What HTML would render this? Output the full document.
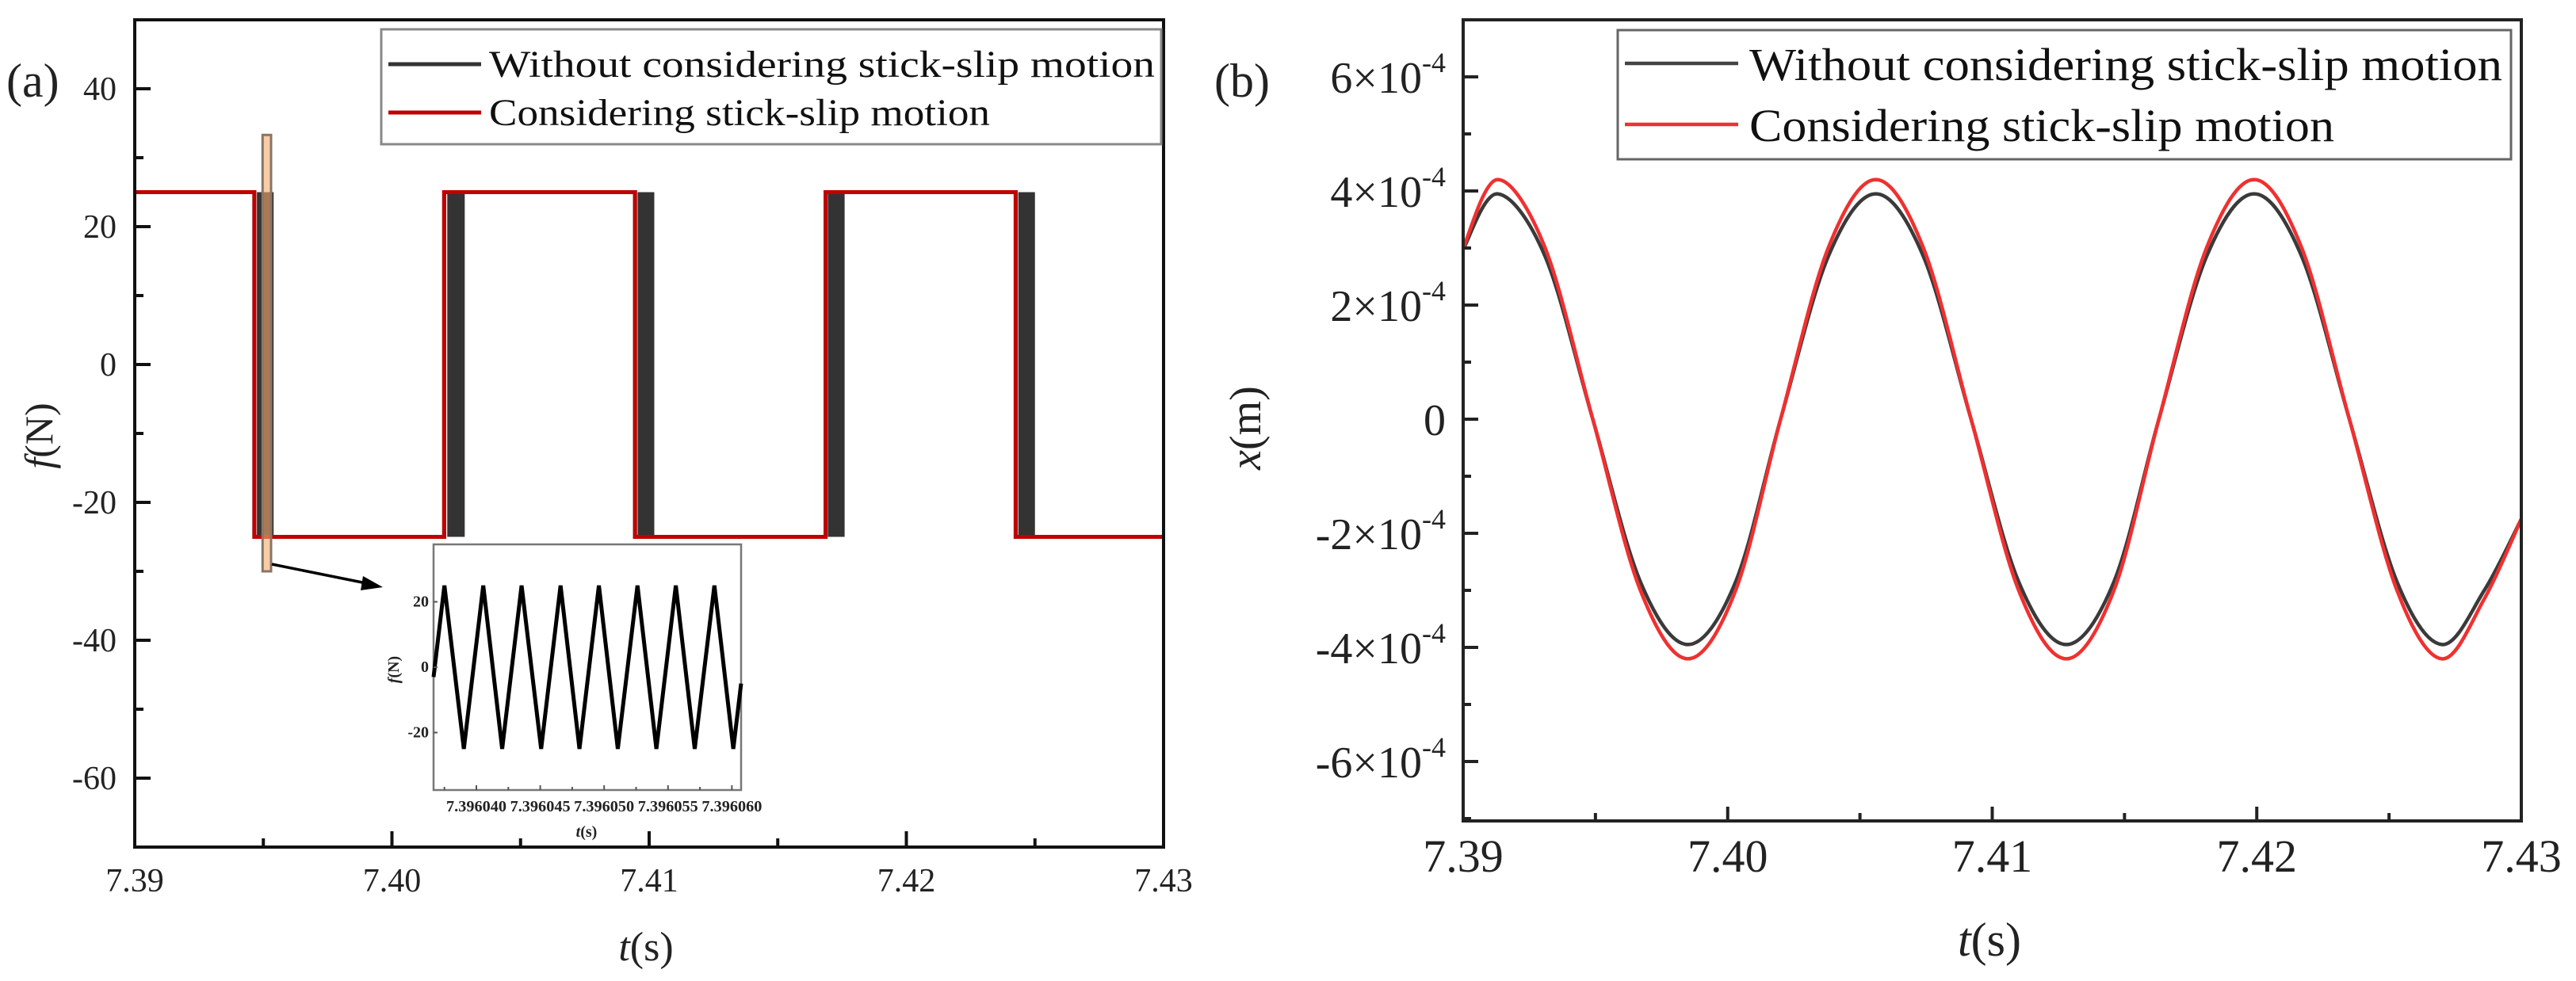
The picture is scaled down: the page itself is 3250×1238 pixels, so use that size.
<!DOCTYPE html>
<html><head><meta charset="utf-8"><style>
html,body{margin:0;padding:0;background:#fff;}
svg{display:block;font-family:"Liberation Serif",serif;}
svg text{font-family:"Liberation Serif",serif;}
</style></head><body>
<svg id="fig" width="3250" height="1238" viewBox="0 0 3250 1238" xmlns="http://www.w3.org/2000/svg">
<g id="pa"></g>
<g id="pb"></g>
</svg>
<script>
// ---------- Panel (a) data ----------
const aXTicks = [7.39, 7.40, 7.41, 7.42, 7.43];
const aXTickLabels = ["7.39", "7.40", "7.41", "7.42", "7.43"];
const aYTicks = [40, 20, 0, -20, -40, -60];
const aYTickLabels = ["40", "20", "0", "-20", "-40", "-60"];
const aRedSwitchT = [7.39465, 7.40203, 7.40945, 7.41686, 7.42425];
const aRedStartLevel = 25;
const aLevelHigh = 25;
const aLevelLow = -25;
const aBlackBlockStart = [7.39475, 7.40215, 7.40955, 7.41695, 7.42435];
const aBlackBlockEnd = [7.39540, 7.40283, 7.41020, 7.41760, 7.42500];
const aHighlightT = [7.39497, 7.39530];
const aHighlightF = [33.3, -30];
// inset data (time in microseconds after 7.396 s)
const insetT = [36.65, 37.50, 39.02, 40.54, 42.02, 43.54, 45.07, 46.59, 48.07, 49.59, 51.07, 52.61, 54.09, 55.61, 57.09, 58.63, 60.11, 60.72];
const insetF = [-3, 25, -25, 25, -25, 25, -25, 25, -25, 25, -25, 25, -25, 25, -25, 25, -25, -5];
const insetXTicks = [40, 45, 50, 55, 60];
const insetXTickLabels = ["7.396040", "7.396045", "7.396050", "7.396055", "7.396060"];
const insetYTicks = [20, 0, -20];
const insetYTickLabels = ["20", "0", "-20"];

// ---------- Panel (b) data ----------
const bXTicks = [7.39, 7.40, 7.41, 7.42, 7.43];
const bXTickLabels = ["7.39", "7.40", "7.41", "7.42", "7.43"];
const bYTicks = [6, 4, 2, 0, -2, -4, -6];
const bYTickMant = ["6", "4", "2", "0", "-2", "-4", "-6"];
const bT = [7.3900, 7.3913, 7.3931, 7.3949, 7.3967, 7.3985, 7.4003, 7.4020, 7.4038, 7.4056, 7.4074, 7.4092, 7.4110, 7.4128, 7.4146, 7.4163, 7.4181, 7.4199, 7.4217, 7.4235, 7.4253, 7.4270, 7.4286, 7.4300];
const bBlack = [2.98, 3.95, 2.85, 0, -2.85, -3.95, -2.85, 0, 2.85, 3.95, 2.85, 0, -2.85, -3.95, -2.85, 0, 2.85, 3.95, 2.85, 0, -2.85, -3.95, -3.0, -1.75];
const bRed = [3.0, 4.2, 3.0, 0, -3.0, -4.2, -3.0, 0, 3.0, 4.2, 3.0, 0, -3.0, -4.2, -3.0, 0, 3.0, 4.2, 3.0, 0, -3.0, -4.2, -3.15, -1.75];

const NS = "http://www.w3.org/2000/svg";
const FF = '"Liberation Serif", serif';
function mk(parent, tag, attrs, text) {
  const e = document.createElementNS(NS, tag);
  for (const k in attrs) e.setAttribute(k, attrs[k]);
  if (tag === "text") e.setAttribute("font-family", FF);
  if (text !== undefined) e.textContent = text;
  parent.appendChild(e);
  return e;
}
function crPath(pts) {
  let d = "M" + pts[0][0] + "," + pts[0][1];
  for (let i = 0; i < pts.length - 1; i++) {
    const p0 = pts[Math.max(0, i - 1)], p1 = pts[i], p2 = pts[i + 1], p3 = pts[Math.min(pts.length - 1, i + 2)];
    const c1x = p1[0] + (p2[0] - p0[0]) / 6, c1y = p1[1] + (p2[1] - p0[1]) / 6;
    const c2x = p2[0] - (p3[0] - p1[0]) / 6, c2y = p2[1] - (p3[1] - p1[1]) / 6;
    d += " C" + c1x + "," + c1y + " " + c2x + "," + c2y + " " + p2[0] + "," + p2[1];
  }
  return d;
}

// ===== Panel A =====
const pa = document.getElementById("pa");
const aL = 170, aR = 1468, aT = 25, aB = 1069;
const ax = t => aL + (t - 7.39) / 0.04 * (aR - aL);
const ay = v => aT + (50 - v) / 120 * (aB - aT);

let bd = "M" + aL + "," + ay(aRedStartLevel);
let lvl = aRedStartLevel;
aRedSwitchT.forEach(t => { lvl = (lvl === aLevelHigh) ? aLevelLow : aLevelHigh; bd += " L" + ax(t) + "," + ay(lvl === aLevelHigh ? aLevelLow : aLevelHigh) + " L" + ax(t) + "," + ay(lvl); });
bd += " L" + aR + "," + ay(lvl);
const blackStep = mk(pa, "path", {d: bd, fill: "none", stroke: "#333", "stroke-width": 5});


aBlackBlockStart.forEach((t0, i) => {
  const r = mk(pa, "rect", {x: ax(t0), y: ay(aLevelHigh), width: ax(aBlackBlockEnd[i]) - ax(t0), height: ay(aLevelLow) - ay(aLevelHigh), fill: "#333"});
  
  
});
let rd = "M" + aL + "," + ay(aRedStartLevel);
lvl = aRedStartLevel;
aRedSwitchT.forEach(t => { const nl = (lvl === aLevelHigh) ? aLevelLow : aLevelHigh; rd += " L" + ax(t) + "," + ay(lvl) + " L" + ax(t) + "," + ay(nl); lvl = nl; });
rd += " L" + aR + "," + ay(lvl);
const redStep = mk(pa, "path", {d: rd, fill: "none", stroke: "#c00000", "stroke-width": 5});


const hl = mk(pa, "rect", {x: ax(aHighlightT[0]), y: ay(aHighlightF[0]), width: ax(aHighlightT[1]) - ax(aHighlightT[0]), height: ay(aHighlightF[1]) - ay(aHighlightF[0]), fill: "rgba(245,170,110,0.6)", stroke: "#8a7565", "stroke-width": 3});


const arr = mk(pa, "line", {x1: 343, y1: 712, x2: 462, y2: 736, stroke: "#000", "stroke-width": 3.5});


const ah = mk(pa, "polygon", {points: "483,741 458,727 455,745", fill: "#000"});



const fa = mk(pa, "rect", {x: aL, y: aT, width: aR - aL, height: aB - aT, fill: "none", stroke: "#111", "stroke-width": 4});


aXTicks.forEach((t, i) => {
  mk(pa, "line", {x1: ax(t), y1: aB, x2: ax(t), y2: aB - 20, stroke: "#111", "stroke-width": 4});
  if (i < aXTicks.length - 1) mk(pa, "line", {x1: ax(t + 0.005), y1: aB, x2: ax(t + 0.005), y2: aB - 11, stroke: "#111", "stroke-width": 4});
  const tl = mk(pa, "text", {x: ax(t), y: 1125, "font-size": 42, "text-anchor": "middle", fill: "#222"}, aXTickLabels[i]);
  
  
});
aYTicks.forEach((v, i) => {
  mk(pa, "line", {x1: aL, y1: ay(v), x2: aL + 20, y2: ay(v), stroke: "#111", "stroke-width": 4});
  mk(pa, "line", {x1: aL, y1: ay(v - 10), x2: aL + 11, y2: ay(v - 10), stroke: "#111", "stroke-width": 4});
  const tl = mk(pa, "text", {x: 147, y: ay(v) + 14, "font-size": 42, "text-anchor": "end", fill: "#222"}, aYTickLabels[i]);
  
  
});
const xta = mk(pa, "text", {x: 815, y: 1212, "font-size": 52, "text-anchor": "middle", fill: "#222"});
xta.innerHTML = '<tspan font-style="italic">t</tspan>(s)';


const yta = mk(pa, "text", {x: 0, y: 0, "font-size": 50, "text-anchor": "middle", fill: "#222", transform: "translate(66,550) rotate(-90)"});
yta.innerHTML = '<tspan font-style="italic">f</tspan>(N)';


const lblA = mk(pa, "text", {x: 8, y: 122, "font-size": 60, fill: "#222"}, "(a)");


const lga = mk(pa, "g", {});


mk(lga, "rect", {x: 481, y: 37, width: 984, height: 145, fill: "#fff", stroke: "#888", "stroke-width": 3});
mk(lga, "line", {x1: 490, y1: 81, x2: 607, y2: 81, stroke: "#333", "stroke-width": 5});
mk(lga, "line", {x1: 490, y1: 142, x2: 607, y2: 142, stroke: "#c00000", "stroke-width": 5});
const la1 = mk(lga, "text", {x: 617, y: 97, "font-size": 48, textLength: 840, lengthAdjust: "spacingAndGlyphs", fill: "#111"}, "Without considering stick-slip motion");


const la2 = mk(lga, "text", {x: 617, y: 158, "font-size": 48, textLength: 632, lengthAdjust: "spacingAndGlyphs", fill: "#111"}, "Considering stick-slip motion");



// inset
const ins = mk(pa, "g", {});


const iL = 547, iR = 935, iT = 687, iB = 997;
const ix = t => iL + (t - 36.65) / (60.72 - 36.65) * (iR - iL);
const iy = v => 842 - v * 4.125;
mk(ins, "rect", {x: iL, y: iT, width: iR - iL, height: iB - iT, fill: "#fff", stroke: "#777", "stroke-width": 2.5});
const ip = mk(ins, "polyline", {points: insetT.map((t, i) => ix(t) + "," + iy(insetF[i])).join(" "), fill: "none", stroke: "#000", "stroke-width": 5, "stroke-linejoin": "miter"});


insetXTicks.forEach((t, i) => {
  mk(ins, "line", {x1: ix(t), y1: iB, x2: ix(t), y2: iB - 6, stroke: "#555", "stroke-width": 2});
  mk(ins, "line", {x1: ix(t - 2.5), y1: iB, x2: ix(t - 2.5), y2: iB - 4, stroke: "#555", "stroke-width": 2});
  const tl = mk(ins, "text", {x: ix(t), y: 1024, "font-size": 20, "font-weight": "bold", "text-anchor": "middle", textLength: 76, lengthAdjust: "spacingAndGlyphs", fill: "#222"}, insetXTickLabels[i]);
  
  
});
insetYTicks.forEach((v, i) => {
  mk(ins, "line", {x1: iL, y1: iy(v), x2: iL + 5, y2: iy(v), stroke: "#555", "stroke-width": 2});
  const tl = mk(ins, "text", {x: iL - 6, y: iy(v) + 6, "font-size": 20, "font-weight": "bold", "text-anchor": "end", fill: "#222"}, insetYTickLabels[i]);
  
  
});
const ixt = mk(ins, "text", {x: 740, y: 1056, "font-size": 20, "font-weight": "bold", "text-anchor": "middle", fill: "#222"});
ixt.innerHTML = '<tspan font-style="italic">t</tspan>(s)';


const iyt = mk(ins, "text", {x: 0, y: 0, "font-size": 20, "font-weight": "bold", "text-anchor": "middle", fill: "#222", transform: "translate(503,845) rotate(-90)"});
iyt.innerHTML = '<tspan font-style="italic">f</tspan>(N)';



// ===== Panel B =====
const pb = document.getElementById("pb");
const bL = 1846, bR = 3181, bTp = 25, bBt = 1036;
const bx = t => bL + (t - 7.39) / 0.04 * (bR - bL);
const by = v => 529 - v * 72;
const blk = mk(pb, "path", {d: crPath(bT.map((t, i) => [bx(t), by(bBlack[i])])), fill: "none", stroke: "#3a3a3a", "stroke-width": 4.5});


const red = mk(pb, "path", {d: crPath(bT.map((t, i) => [bx(t), by(bRed[i])])), fill: "none", stroke: "#f03030", "stroke-width": 4.5});


const fb = mk(pb, "rect", {x: bL, y: bTp, width: bR - bL, height: bBt - bTp, fill: "none", stroke: "#222", "stroke-width": 4});


bXTicks.forEach((t, i) => {
  mk(pb, "line", {x1: bx(t), y1: bBt, x2: bx(t), y2: bBt - 18, stroke: "#222", "stroke-width": 4});
  if (i < bXTicks.length - 1) mk(pb, "line", {x1: bx(t + 0.005), y1: bBt, x2: bx(t + 0.005), y2: bBt - 10, stroke: "#222", "stroke-width": 4});
  const tl = mk(pb, "text", {x: bx(t), y: 1100, "font-size": 58, "text-anchor": "middle", fill: "#222"}, bXTickLabels[i]);
  
  
});
bYTicks.forEach((v, i) => {
  mk(pb, "line", {x1: bL, y1: by(v), x2: bL + 19, y2: by(v), stroke: "#222", "stroke-width": 4});
  mk(pb, "line", {x1: bL, y1: by(v - 1), x2: bL + 10, y2: by(v - 1), stroke: "#222", "stroke-width": 4});
  const tl = mk(pb, "text", {x: 1824, y: by(v) + 20, "font-size": 56, "text-anchor": "end", fill: "#222"});
  if (v === 0) tl.textContent = "0";
  else tl.innerHTML = bYTickMant[i] + '×10<tspan font-size="36" dy="-26">-4</tspan>';
  
  
});
mk(pb, "line", {x1: bL, y1: by(6 + 0.0) - 72, x2: bL + 10, y2: by(6) - 72, stroke: "#222", "stroke-width": 0});
const xtb = mk(pb, "text", {x: 2510, y: 1206, "font-size": 60, "text-anchor": "middle", fill: "#222"});
xtb.innerHTML = '<tspan font-style="italic">t</tspan>(s)';


const ytb = mk(pb, "text", {x: 0, y: 0, "font-size": 56, "text-anchor": "middle", fill: "#222", transform: "translate(1590,540) rotate(-90)"});
ytb.innerHTML = '<tspan font-style="italic">x</tspan>(m)';


const lblB = mk(pb, "text", {x: 1532, y: 122, "font-size": 60, fill: "#222"}, "(b)");


const lgb = mk(pb, "g", {});


mk(lgb, "rect", {x: 2041, y: 38, width: 1127, height: 163, fill: "#fff", stroke: "#666", "stroke-width": 3});
mk(lgb, "line", {x1: 2050, y1: 80, x2: 2193, y2: 80, stroke: "#444", "stroke-width": 4.5});
mk(lgb, "line", {x1: 2050, y1: 157, x2: 2193, y2: 157, stroke: "#f03030", "stroke-width": 4.5});
const lb1 = mk(lgb, "text", {x: 2207, y: 101, "font-size": 58, textLength: 950, lengthAdjust: "spacingAndGlyphs", fill: "#111"}, "Without considering stick-slip motion");


const lb2 = mk(lgb, "text", {x: 2207, y: 178, "font-size": 58, textLength: 738, lengthAdjust: "spacingAndGlyphs", fill: "#111"}, "Considering stick-slip motion");


</script>
</body></html>
